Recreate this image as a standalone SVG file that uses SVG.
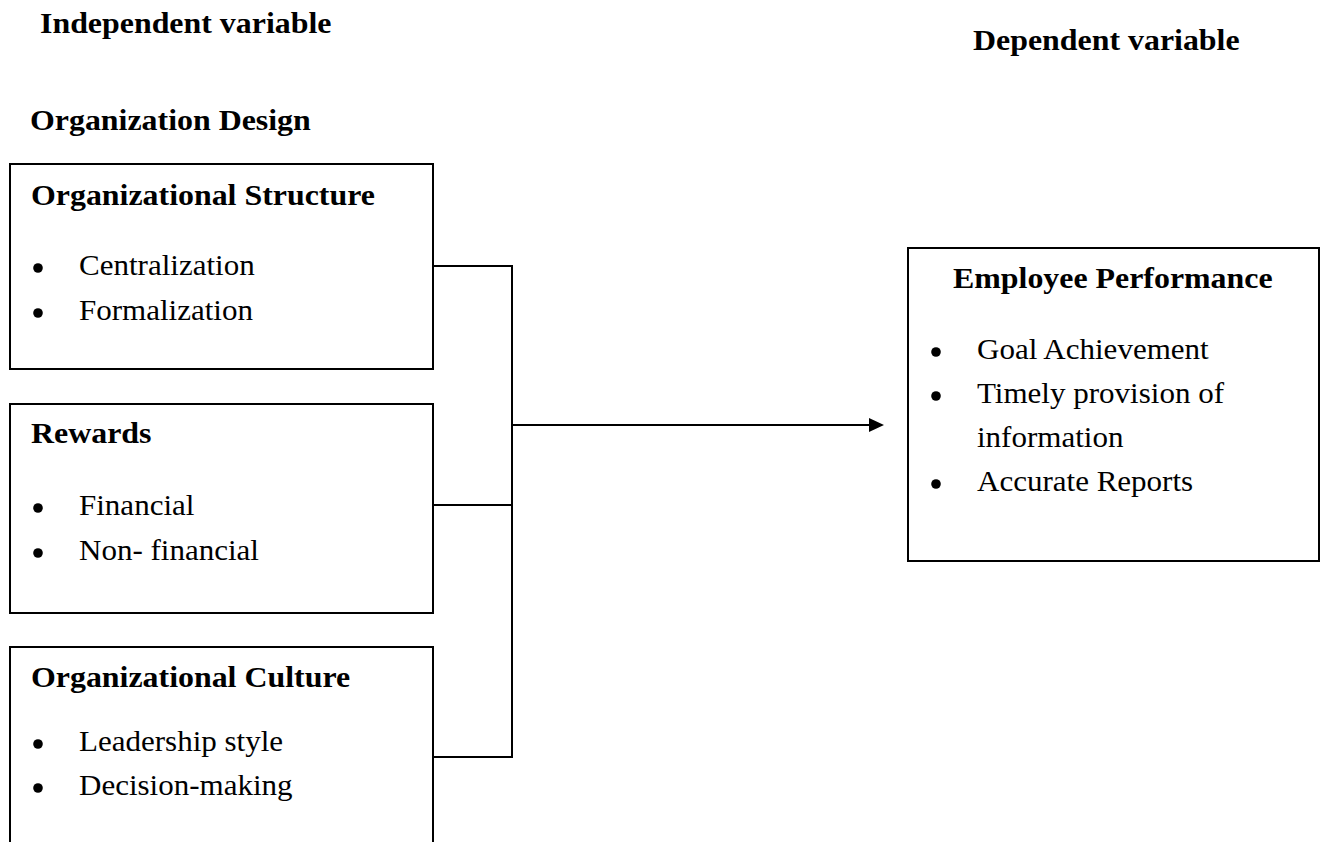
<svg xmlns="http://www.w3.org/2000/svg" width="1324" height="842" viewBox="0 0 1324 842">
  <style>
    text { font-family: "Liberation Serif", "Times New Roman", serif; font-size: 29px; fill: #000; }
    .h { font-weight: bold; }
    .box { fill: none; stroke: #000; stroke-width: 2; }
    .wire { fill: none; stroke: #000; stroke-width: 2; }
    .dot { fill: #000; }
  </style>
  <defs>
    <marker id="arrowhead" markerUnits="userSpaceOnUse" markerWidth="16" markerHeight="16" refX="1" refY="8" orient="auto">
      <polygon points="0,1 15,8 0,15" fill="#000"/>
    </marker>
  </defs>

  <rect width="1324" height="842" fill="#fff"/>

  <!-- section captions -->
  <g id="captions">
    <text class="h" transform="translate(40 33) scale(1.1 1)">Independent variable</text>
    <text class="h" transform="translate(973 50) scale(1.1 1)">Dependent variable</text>
    <text class="h" transform="translate(30 130) scale(1.1 1)">Organization Design</text>
  </g>

  <!-- Organizational Structure -->
  <g id="node-structure">
    <rect class="box" x="10" y="164" width="423" height="205"/>
    <text class="h" transform="translate(31 205) scale(1.1 1)">Organizational Structure</text>
    <circle class="dot" cx="38" cy="268" r="4.8"/>
    <text transform="translate(79 275) scale(1.07 1)">Centralization</text>
    <circle class="dot" cx="38" cy="313" r="4.8"/>
    <text transform="translate(79 320) scale(1.07 1)">Formalization</text>
  </g>

  <!-- Rewards -->
  <g id="node-rewards">
    <rect class="box" x="10" y="404" width="423" height="209"/>
    <text class="h" transform="translate(31 443) scale(1.1 1)">Rewards</text>
    <circle class="dot" cx="38" cy="508" r="4.8"/>
    <text transform="translate(79 515) scale(1.07 1)">Financial</text>
    <circle class="dot" cx="38" cy="553" r="4.8"/>
    <text transform="translate(79 560) scale(1.07 1)">Non- financial</text>
  </g>

  <!-- Organizational Culture (runs off the bottom edge) -->
  <g id="node-culture">
    <path class="box" d="M10,843 V647 H433 V843"/>
    <text class="h" transform="translate(31 687) scale(1.1 1)">Organizational Culture</text>
    <circle class="dot" cx="38" cy="744" r="4.8"/>
    <text transform="translate(79 751) scale(1.07 1)">Leadership style</text>
    <circle class="dot" cx="38" cy="788" r="4.8"/>
    <text transform="translate(79 795) scale(1.07 1)">Decision-making</text>
  </g>

  <!-- Employee Performance -->
  <g id="node-performance">
    <rect class="box" x="908" y="248" width="411" height="313"/>
    <text class="h" transform="translate(953 288) scale(1.1 1)">Employee Performance</text>
    <circle class="dot" cx="936" cy="352" r="4.8"/>
    <text transform="translate(977 359) scale(1.07 1)">Goal Achievement</text>
    <circle class="dot" cx="936" cy="396" r="4.8"/>
    <text transform="translate(977 403) scale(1.07 1)">Timely provision of</text>
    <text transform="translate(977 447) scale(1.07 1)">information</text>
    <circle class="dot" cx="936" cy="484" r="4.8"/>
    <text transform="translate(977 491) scale(1.07 1)">Accurate Reports</text>
  </g>

  <!-- connectors -->
  <g id="connectors">
    <path class="wire" d="M433,266 H512"/>
    <path class="wire" d="M433,505 H512"/>
    <path class="wire" d="M433,757 H512"/>
    <path class="wire" d="M512,265 V758"/>
    <path class="wire" d="M512,425 H870" marker-end="url(#arrowhead)"/>
  </g>
</svg>
